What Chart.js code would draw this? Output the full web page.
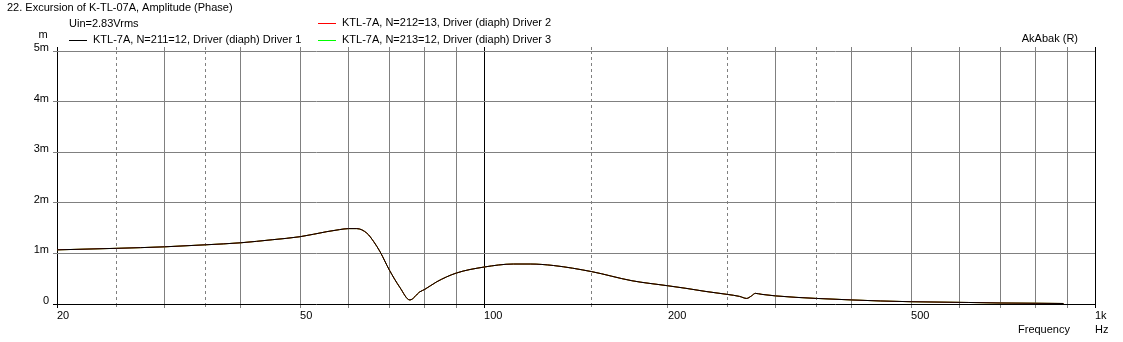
<!DOCTYPE html>
<html><head><meta charset="utf-8">
<script src="https://cdn.jsdelivr.net/npm/chart.js@4/dist/chart.umd.min.js"></script>
<style>html,body{margin:0;padding:0;background:#fff;}canvas{display:block;}</style>
</head><body>
<canvas id="c" width="1123" height="342"></canvas>
<script>
// ---- data (frequency in Hz, excursion in mm) ----
const freqHz  = [20, 25, 30, 35, 40, 45, 50, 55.3, 58, 60, 61.9, 64.3, 66, 67.6, 70, 72.8, 75.6, 78.5, 80, 83.7, 90, 100, 111.7, 119, 130, 150, 174.6, 200, 214, 230, 250, 262, 269, 274, 278, 285, 300, 350, 400, 445, 500, 620, 700, 800, 888];
const driver1 = [1.07, 1.10, 1.13, 1.17, 1.21, 1.27, 1.33, 1.43, 1.47, 1.49, 1.49, 1.40, 1.23, 1.03, 0.67, 0.33, 0.08, 0.24, 0.29, 0.44, 0.61, 0.73, 0.79, 0.79, 0.76, 0.64, 0.46, 0.36, 0.31, 0.25, 0.19, 0.15, 0.11, 0.16, 0.21, 0.19, 0.16, 0.11, 0.08, 0.06, 0.045, 0.03, 0.02, 0.015, 0.01];
const driver2 = [1.07, 1.10, 1.13, 1.17, 1.21, 1.27, 1.33, 1.43, 1.47, 1.49, 1.49, 1.40, 1.23, 1.03, 0.67, 0.33, 0.08, 0.24, 0.29, 0.44, 0.61, 0.73, 0.79, 0.79, 0.76, 0.64, 0.46, 0.36, 0.31, 0.25, 0.19, 0.15, 0.11, 0.16, 0.21, 0.19, 0.16, 0.11, 0.08, 0.06, 0.045, 0.03, 0.02, 0.015, 0.01];
const driver3 = [1.07, 1.10, 1.13, 1.17, 1.21, 1.27, 1.33, 1.43, 1.47, 1.49, 1.49, 1.40, 1.23, 1.03, 0.67, 0.33, 0.08, 0.24, 0.29, 0.44, 0.61, 0.73, 0.79, 0.79, 0.76, 0.64, 0.46, 0.36, 0.31, 0.25, 0.19, 0.15, 0.11, 0.16, 0.21, 0.19, 0.16, 0.11, 0.08, 0.06, 0.045, 0.03, 0.02, 0.015, 0.01];

const seriesNames = ['KTL-7A, N=211=12, Driver (diaph) Driver 1', 'KTL-7A, N=212=13, Driver (diaph) Driver 2', 'KTL-7A, N=213=12, Driver (diaph) Driver 3'];
const seriesColors = ['#000000', '#ff0000', '#00ff00'];

const xTickValues = [20, 25, 30, 35, 40, 50, 60, 70, 80, 90, 100, 150, 200, 250, 300, 350, 400, 500, 600, 700, 800, 900, 1000];
const xTickLabels = {20: '20', 50: '50', 100: '100', 200: '200', 500: '500', 1000: '1k'};
const dashedFreqs = [25, 35, 150, 250, 350];
const darkFreqs = [20, 100, 1000];
const yTickValues = [0, 1, 2, 3, 4, 5];
const yTickLabels = ['0', '1m', '2m', '3m', '4m', '5m'];

const titleText = '22. Excursion of K-TL-07A, Amplitude (Phase)';
const subText = 'Uin=2.83Vrms';
const FONT = '11px "Liberation Sans", Arial, sans-serif';

function pts(arr){ return freqHz.map((f,i)=>({x:f, y:arr[i]})); }

const textPlugin = {
  id: 'texts',
  afterDraw(chart){
    const c = chart.ctx;
    c.save();
    c.font = FONT;
    c.fillStyle = '#000';
    c.textBaseline = 'middle';
    c.textAlign = 'left';
    c.fillText(titleText, 7, 8);
    c.fillText(subText, 69, 24);
    // legend
    const legendPos = [[69, 40], [318, 23], [318, 40]];
    seriesNames.forEach((name, i) => {
      const [lx, ly] = legendPos[i];
      c.fillStyle = seriesColors[i];
      c.fillRect(lx, ly, 18, 1);
      c.fillStyle = '#000';
      c.fillText(name, lx + 24, ly);
    });
    c.textAlign = 'center';
    c.fillText('m', 43, 35);
    c.textAlign = 'right';
    c.fillText('AkAbak (R)', 1078, 39);
    c.textAlign = 'left';
    c.fillText('Frequency', 1018, 330);
    c.fillText('Hz', 1095, 330);
    c.restore();
  }
};

new Chart(document.getElementById('c'), {
  type: 'line',
  data: {
    datasets: [
      {label: seriesNames[0], data: pts(driver1), borderColor: seriesColors[0]},
      {label: seriesNames[1], data: pts(driver2), borderColor: seriesColors[1]},
      {label: seriesNames[2], data: pts(driver3), borderColor: seriesColors[2]}
    ].map(d => Object.assign(d, {borderWidth: 1, pointRadius: 0, fill: false, cubicInterpolationMode: 'monotone'}))
  },
  options: {
    responsive: false,
    animation: false,
    devicePixelRatio: 1,
    layout: {padding: {top: 51, right: 28, left: 0, bottom: 0}},
    plugins: {legend: {display: false}, tooltip: {enabled: false}},
    scales: {
      x: {
        type: 'logarithmic', position: 'bottom', min: 20, max: 1000,
        afterBuildTicks: s => { s.ticks = xTickValues.map(v => ({value: v})); },
        afterFit: s => { s.height = 38; },
        ticks: {
          autoSkip: false, maxRotation: 0, minRotation: 0, align: 'start', padding: 1,
          color: '#000', font: {family: '"Liberation Sans", Arial, sans-serif', size: 11},
          callback: v => xTickLabels[v] ?? ''
        },
        grid: {
          drawOnChartArea: true, drawTicks: true, tickLength: 4, lineWidth: 1,
          color: ctx => darkFreqs.includes(ctx.tick && ctx.tick.value) ? '#000' : '#808080',
          tickColor: ctx => darkFreqs.includes(ctx.tick && ctx.tick.value) ? '#000' : '#808080',
          tickBorderDash: ctx => dashedFreqs.includes(ctx.tick && ctx.tick.value) ? [3, 3] : []
        },
        border: {
          display: false,
          dash: ctx => dashedFreqs.includes(ctx.tick && ctx.tick.value) ? [3, 3] : []
        }
      },
      x2: {
        type: 'logarithmic', position: 'top', min: 20, max: 1000,
        afterBuildTicks: s => { s.ticks = xTickValues.map(v => ({value: v})); },
        afterFit: s => { s.height = 0; },
        ticks: {display: false},
        grid: {
          drawOnChartArea: false, drawTicks: true, tickLength: 4,
          tickColor: ctx => darkFreqs.includes(ctx.tick && ctx.tick.value) ? '#000' : '#808080',
          tickBorderDash: ctx => dashedFreqs.includes(ctx.tick && ctx.tick.value) ? [3, 3] : []
        },
        border: {display: false}
      },
      y: {
        type: 'linear', position: 'left', min: 0, max: 5,
        afterBuildTicks: s => { s.ticks = yTickValues.map(v => ({value: v})); },
        afterFit: s => { s.width = 57; },
        ticks: {
          padding: 4, labelOffset: -3, color: '#000',
          font: {family: '"Liberation Sans", Arial, sans-serif', size: 11},
          callback: (v, i) => yTickLabels[yTickValues.indexOf(v)]
        },
        grid: {
          drawTicks: true, tickLength: 4, lineWidth: 1,
          color: ctx => (ctx.tick && ctx.tick.value === 0) ? '#000' : '#808080',
          tickColor: ctx => (ctx.tick && ctx.tick.value === 0) ? '#000' : '#808080'
        },
        border: {display: false}
      }
    }
  },
  plugins: [textPlugin]
});
</script>
</body></html>
